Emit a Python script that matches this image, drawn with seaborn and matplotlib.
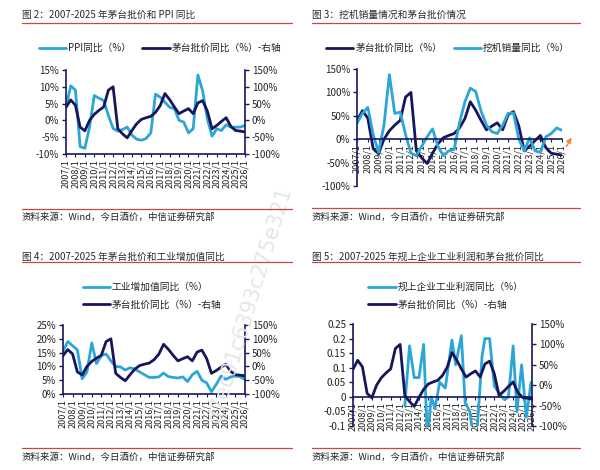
import matplotlib
matplotlib.use("Agg")
import matplotlib.pyplot as plt
from matplotlib.lines import Line2D
import numpy as np
import seaborn as sns

DARK = "#16165e"
LIGHT = "#2ba6d6"
RED = "#c9473d"
TEXT = "#222222"

# half-year observation dates, 2007/1 .. 2026/1
HALF_YEARS = np.arange(2007, 2026.01, 0.5)
YEAR_TICKS = list(range(2007, 2027))
YEAR_LABELS = [f"{y}/1" for y in YEAR_TICKS]

MOUTAI = [39, 61, 45, -20, -31, 0, 18, 30, 40, 90,
          100, -25, -40, -52, -30, -10, 3, 8, 12, 24,
          44, 80, 62, 40, 20, 28, 35, 20, 52, 59,
          28, -25, -15, -3, 8, -18, -30, -32, -34]

PPI = [4, 10.3, 9, -7.8, -8.3, -2, 7.4, 6.6, 5.9, 1.5,
       -2.4, -3.2, -2.7, -2, -4.4, -5.6, -5.9, -5.4, -3.7, 7.8,
       6.9, 5.4, 3.9, 3.5, 0, -0.5, -3.7, -2.5, 13.5, 8.8,
       0.5, -4.7, -2.5, -3, -1.3, -2, -2, -2, -1.5]

EXCAVATOR = [34, 55, 68, 10, -28, 30, 138, 55, 58, 10,
             -30, -35, -15, 5, 22, -15, -35, -25, -22, 35,
             80, 109, 102, 60, 30, 16, 12, 30, 55, 56,
             0, -25, 3, -25, -28, 5, 12, 24, 19]

IVA = [15.5, 19, 17.5, 16, 5.5, 8, 18.5, 11, 14, 14.5,
       12, 10, 9.8, 8.7, 9.5, 9.0, 8.0, 7.0, 6.0, 6.0,
       6.2, 7.6, 6.3, 6.0, 5.8, 6.2, 4.5, 7.0, 8.2, 5.0,
       4.0, 0.8, 3.5, 6.5, 5.3, 6.2, 6.5, 6.3, 5.2]

PROFIT_DATES = [2012.5, 2013.0, 2013.5, 2014.0, 2014.5, 2014.9, 2015.3, 2015.7,
                2016.2, 2016.8, 2017.5, 2017.9, 2018.5, 2018.9, 2019.4, 2020.0,
                2020.7, 2021.0, 2021.5, 2022.0, 2022.6, 2023.1, 2023.5, 2024.0,
                2024.4, 2024.9, 2025.4, 2025.9]
PROFIT = [-0.03, 0.175, 0.066, 0.066, 0.18, -0.15, 0.0, -0.04,
          0.05, 0.03, 0.195, 0.11, 0.21, -0.02, -0.05, -0.2,
          0.14, 0.2, 0.2, 0.037, 0.008, -0.01, 0.0, 0.175,
          -0.05, 0.11, -0.07, 0.05]

TITLES = [
    "图 2：2007-2025 年茅台批价和 PPI 同比",
    "图 3：挖机销量情况和茅台批价情况",
    "图 4：2007-2025 年茅台批价和工业增加值同比",
    "图 5：2007-2025 年规上企业工业利润和茅台批价同比",
]
SOURCE = "资料来源：Wind，今日酒价，中信证券研究部"

W, H = 600, 470


def px_rect(left, top, right, bottom):
    return [left / W, 1 - bottom / H, (right - left) / W, (bottom - top) / H]


def fx(x):
    return x / W


def fy(y):
    return 1 - y / H


def draw(ax, x, y, color):
    sns.lineplot(x=x, y=y, ax=ax, color=color, linewidth=2.0, legend=False)


def style_ax(ax, right=False):
    for side in ["top", "right", "left", "bottom"]:
        ax.spines[side].set_visible(False)
    side = "right" if right else "left"
    ax.spines[side].set_visible(True)
    ax.spines[side].set_color(DARK)
    ax.spines[side].set_linewidth(1.2)
    ax.tick_params(axis="y", which="both", length=3, width=1, color=DARK,
                   labelsize=7, labelcolor=TEXT, pad=2,
                   left=not right, right=right, labelleft=not right, labelright=right)
    ax.grid(False)
    ax.set_xlabel("")
    ax.set_ylabel("")


def style_xaxis(ax, zero=None):
    ax.spines["bottom"].set_visible(True)
    ax.spines["bottom"].set_color(DARK)
    ax.spines["bottom"].set_linewidth(1.2)
    if zero is not None:
        ax.spines["bottom"].set_position(("data", zero))
    ax.set_xlim(2007, 2026)
    ax.set_xticks(YEAR_TICKS)
    ax.set_xticklabels(YEAR_LABELS, rotation=90)
    ax.tick_params(axis="x", length=2.5, width=0.8, color=DARK, labelsize=6.5,
                   labelcolor=TEXT, pad=1, bottom=True)


def pct(values):
    return [f"{v:g}%" for v in values]


def header(x0, x1, y_title, y_line, text):
    fig.text(fx(x0), fy(y_title), text, fontsize=7, color="#2a2a2a",
             fontweight="medium", ha="left", va="center")
    fig.add_artist(Line2D([fx(x0), fx(x1)], [fy(y_line)] * 2, color=RED, lw=0.9))


def footer(x0, x1, y_line, y_text):
    fig.add_artist(Line2D([fx(x0), fx(x1)], [fy(y_line)] * 2, color=RED, lw=0.9))
    fig.text(fx(x0), fy(y_text), SOURCE, fontsize=6.8, color=TEXT,
             ha="left", va="center")


def legend(entries, cx, cy, ncol):
    handles = [Line2D([], [], color=c, lw=2) for c, _ in entries]
    labels = [t for _, t in entries]
    fig.legend(handles, labels, loc="center", bbox_to_anchor=(fx(cx), fy(cy)),
               ncol=ncol, frameon=False, fontsize=7, handlelength=2.8,
               handletextpad=0.2, columnspacing=1.2, labelspacing=0.8,
               labelcolor=TEXT)


sns.set_theme(style="white")
plt.rcParams["font.family"] = ["Noto Sans CJK SC", "DejaVu Sans"]
plt.rcParams["axes.unicode_minus"] = False

fig = plt.figure(figsize=(6, 4.7), dpi=100)

# faint document watermark, behind everything
fig.text(fx(250), fy(305), "d7ec91c6393c275e321", rotation=73, fontsize=15,
         color="#e6e6e6", ha="center", va="center", family="DejaVu Sans", zorder=0)

# ---- panel 2: PPI vs Moutai
ax = fig.add_axes(px_rect(66, 70, 245, 154))
ax_r = ax.twinx()
draw(ax, HALF_YEARS, PPI, LIGHT)
draw(ax_r, HALF_YEARS, MOUTAI, DARK)
ax.set_ylim(-10, 15)
ax.set_yticks(range(-10, 16, 5))
ax.set_yticklabels(pct(range(-10, 16, 5)))
ax_r.set_ylim(-100, 150)
ax_r.set_yticks(range(-100, 151, 50))
ax_r.set_yticklabels(pct(range(-100, 151, 50)))
style_ax(ax)
style_ax(ax_r, right=True)
style_xaxis(ax)
ax_r.tick_params(axis="x", bottom=False, labelbottom=False)
header(22, 292, 15, 22.5, TITLES[0])
legend([(LIGHT, "PPI同比（%）"), (DARK, "茅台批价同比（%）-右轴")], 160, 48, 2)
footer(22, 292, 209, 217)

# ---- panel 3: excavator vs Moutai
ax = fig.add_axes(px_rect(357, 69, 562, 186))
draw(ax, HALF_YEARS, MOUTAI, DARK)
draw(ax, HALF_YEARS, EXCAVATOR, LIGHT)
ax.set_ylim(-100, 150)
ax.set_yticks(range(-100, 151, 50))
ax.set_yticklabels(pct(range(-100, 151, 50)))
style_ax(ax)
style_xaxis(ax, zero=0)
ax.annotate("", xy=(fx(573), fy(135)), xytext=(fx(565), fy(149)),
            xycoords="figure fraction", textcoords="figure fraction",
            arrowprops=dict(arrowstyle="-|>", color="#f0883a", lw=1.1,
                            linestyle="--", mutation_scale=7))
header(312, 580, 15, 22.5, TITLES[1])
legend([(DARK, "茅台批价同比（%）"), (LIGHT, "挖机销量同比（%）")], 448, 48, 2)
footer(312, 580, 208, 217)

# ---- panel 4: industrial value added vs Moutai
ax = fig.add_axes(px_rect(63, 325, 245, 394))
ax_r = ax.twinx()
draw(ax, HALF_YEARS, IVA, LIGHT)
draw(ax_r, HALF_YEARS, MOUTAI, DARK)
ax.set_ylim(0, 25)
ax.set_yticks(range(0, 26, 5))
ax.set_yticklabels(pct(range(0, 26, 5)))
ax_r.set_ylim(-100, 150)
ax_r.set_yticks(range(-100, 151, 50))
ax_r.set_yticklabels(pct(range(-100, 151, 50)))
style_ax(ax)
style_ax(ax_r, right=True)
style_xaxis(ax)
ax_r.tick_params(axis="x", bottom=False, labelbottom=False)
header(22, 292, 256.5, 262, TITLES[2])
legend([(LIGHT, "工业增加值同比（%）"), (DARK, "茅台批价同比（%）-右轴")], 152, 296, 1)
footer(22, 292, 448, 457)

# ---- panel 5: industrial profits vs Moutai
ax = fig.add_axes(px_rect(353, 324, 532, 426))
ax_r = ax.twinx()
draw(ax, PROFIT_DATES, PROFIT, LIGHT)
draw(ax_r, HALF_YEARS, MOUTAI, DARK)
left_ticks = [-0.1, -0.05, 0, 0.05, 0.1, 0.15, 0.2, 0.25]
ax.set_ylim(-0.1, 0.25)
ax.set_yticks(left_ticks)
ax.set_yticklabels([f"{v:g}" for v in left_ticks])
ax_r.set_ylim(-100, 150)
ax_r.set_yticks(range(-100, 151, 50))
ax_r.set_yticklabels(pct(range(-100, 151, 50)))
style_ax(ax)
style_ax(ax_r, right=True)
style_xaxis(ax, zero=0)
ax_r.tick_params(axis="x", bottom=False, labelbottom=False)
header(312, 580, 256.5, 262, TITLES[3])
legend([(LIGHT, "规上企业工业利润同比（%）"), (DARK, "茅台批价同比（%）-右轴")], 446, 296, 1)
footer(312, 580, 448, 457)

fig.savefig("out.png", dpi=100)
